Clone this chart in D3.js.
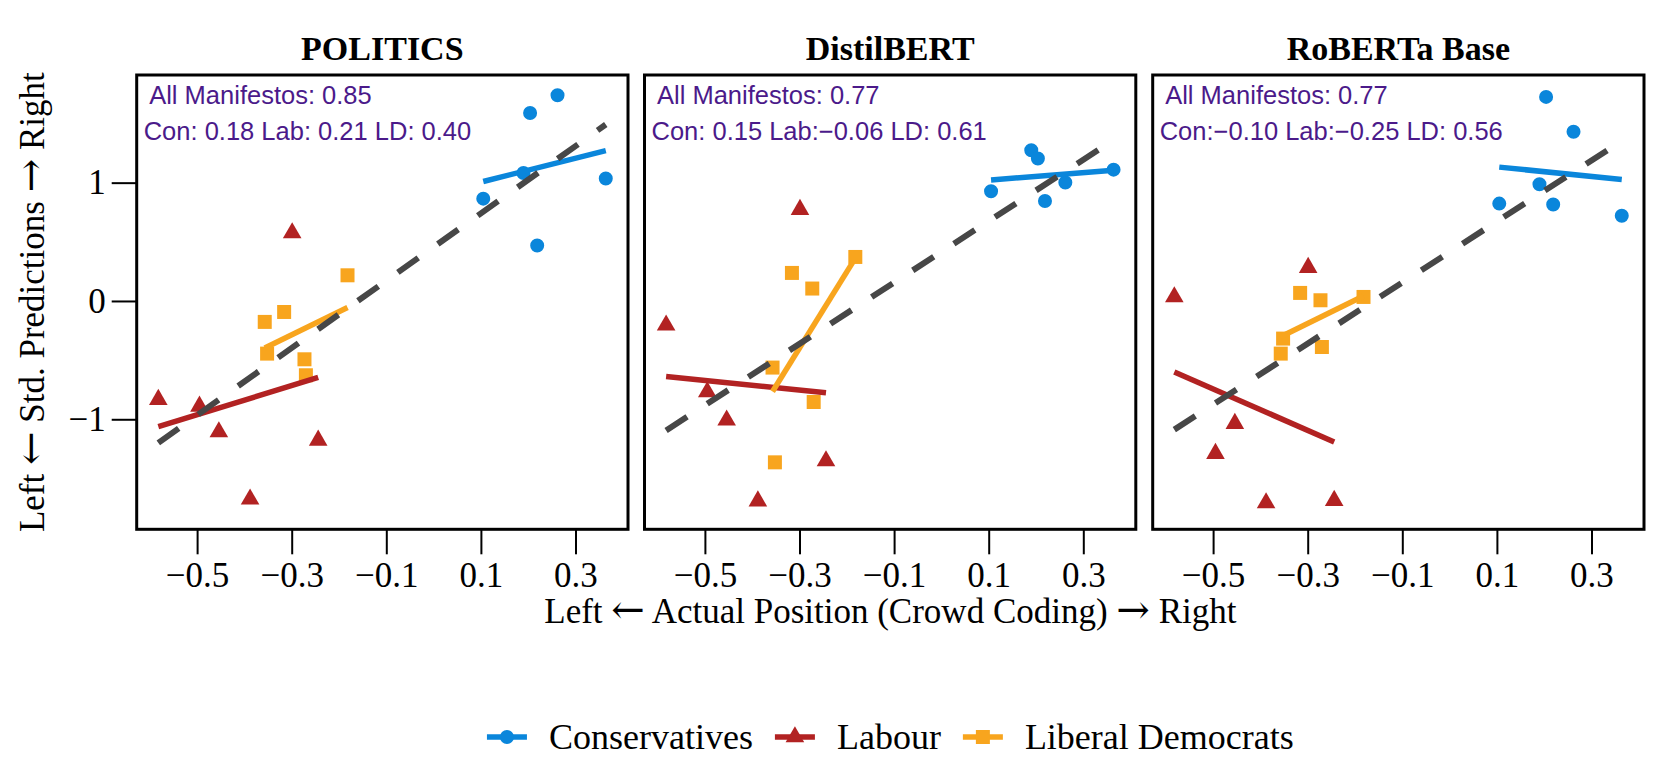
<!DOCTYPE html>
<html>
<head>
<meta charset="utf-8">
<script src="https://cdn.jsdelivr.net/npm/d3@7"></script>
<style>
  body { margin: 0; background: #fff; }
  svg text { font-family: "Liberation Serif", "Times New Roman", serif; }
</style>
</head>
<body>
<div id="chart"></div>
<script>
// data
var models = ["POLITICS", "DistilBERT", "RoBERTa Base"];
var parties = ["Conservatives", "Labour", "Liberal Democrats"];
var allCorr = ["0.85", "0.77", "0.77"];
var conCorr = ["0.18", "0.15", "−0.10"];
var labCorr = ["0.21", "−0.06", "−0.25"];
var ldCorr = ["0.40", "0.61", "0.56"];

// crowd coded positions (same in every panel)
var conX = [0.105, 0.190, 0.204, 0.219, 0.262, 0.364];
var labX = [-0.582, -0.495, -0.454, -0.388, -0.299, -0.244];
var ldX = [-0.357, -0.352, -0.316, -0.273, -0.270, -0.182];

// standardised predictions, one row per model
var conY = [
  [0.865, 1.082, 1.589, 0.469, 1.739, 1.035],
  [0.927, 1.274, 1.204, 0.845, 1.001, 1.110],
  [0.823, 0.986, 1.725, 0.815, 1.430, 0.720]
];
var labY = [
  [-0.833, -0.890, -1.107, -1.675, 0.575, -1.178],
  [-0.205, -0.769, -1.008, -1.691, 0.773, -1.352],
  [0.034, -1.290, -1.036, -1.707, 0.282, -1.687]
];
var ldY = [
  [-0.177, -0.445, -0.093, -0.493, -0.628, 0.217],
  [-0.563, -1.364, 0.237, 0.105, -0.854, 0.372],
  [-0.445, -0.318, 0.068, 0.006, -0.389, 0.034]
];

var xTicks = [-0.5, -0.3, -0.1, 0.1, 0.3];
var yTicks = [-1, 0, 1];

var colors = {"Conservatives": "#0A86DB", "Labour": "#B22222", "Liberal Democrats": "#F8A51E"};
var shapes = {"Conservatives": d3.symbolCircle, "Labour": d3.symbolTriangle, "Liberal Democrats": d3.symbolSquare};
var sizes = {"Conservatives": 154, "Labour": 150, "Liberal Democrats": 196};

var W = 1661, H = 767;
var panelW = 491.3, panelH = 454.3, panelTop = 75;
var panelLeft = [136.7, 644.5, 1152.7];
var sans = "'Liberation Sans', Arial, sans-serif";

var svg = d3.select("#chart").append("svg")
  .attr("width", W).attr("height", H);

var x = d3.scaleLinear().domain([-0.6277, 0.411]).range([0, panelW]);
var y = d3.scaleLinear().domain([-1.93, 1.91]).range([panelH, 0]);

function fit(xs, ys) {
  var mx = d3.mean(xs), my = d3.mean(ys);
  var sxy = d3.sum(xs, function(v, i) { return (v - mx) * (ys[i] - my); });
  var sxx = d3.sum(xs, function(v) { return (v - mx) * (v - mx); });
  var b = sxy / sxx;
  var x0 = d3.min(xs), x1 = d3.max(xs);
  return [[x0, my + b * (x0 - mx)], [x1, my + b * (x1 - mx)]];
}

function corrText(label, v) {
  return label + ":" + (v.charAt(0) === "−" ? "" : " ") + v;
}

// text with wide arrows
function arrowText(sel, parts) {
  parts.forEach(function(p) {
    var t = sel.append("tspan").text(p);
    if (p === "←" || p === "→") t.style("font-family", "'DejaVu Serif', serif").attr("font-size", 40);
  });
}

var line = d3.line().x(function(d) { return x(d[0]); }).y(function(d) { return y(d[1]); });

models.forEach(function(m, i) {
  var g = svg.append("g").attr("transform", "translate(" + panelLeft[i] + "," + panelTop + ")");

  var series = [
    {party: "Conservatives", xs: conX, ys: conY[i]},
    {party: "Labour", xs: labX, ys: labY[i]},
    {party: "Liberal Democrats", xs: ldX, ys: ldY[i]}
  ];

  // axes
  g.append("g").attr("transform", "translate(0," + panelH + ")")
    .call(d3.axisBottom(x).tickValues(xTicks).tickSize(25).tickPadding(8).tickFormat(function(d) { return d3.format(".1f")(d).replace("-", "−"); }))
    .call(function(a) {
      a.select(".domain").remove();
      a.selectAll("line").attr("stroke", "#000").attr("stroke-width", 2);
      a.selectAll("text").attr("font-size", 35).attr("font-family", "Liberation Serif").attr("fill", "#000");
    });
  if (i === 0) {
    g.append("g")
      .call(d3.axisLeft(y).tickValues(yTicks).tickSize(25).tickPadding(6).tickFormat(function(d) { return String(d).replace("-", "−"); }))
      .call(function(a) {
        a.select(".domain").remove();
        a.selectAll("line").attr("stroke", "#000").attr("stroke-width", 2);
        a.selectAll("text").attr("font-size", 35).attr("font-family", "Liberation Serif").attr("fill", "#000");
      });
  }

  // points
  series.forEach(function(s) {
    g.selectAll(null).data(s.xs.map(function(v, k) { return [v, s.ys[k]]; }))
      .enter().append("path")
      .attr("d", d3.symbol().type(shapes[s.party]).size(sizes[s.party]))
      .attr("transform", function(d) { return "translate(" + x(d[0]) + "," + y(d[1]) + ")"; })
      .attr("fill", colors[s.party]);
  });

  // per-party fits
  series.forEach(function(s) {
    g.append("path").datum(fit(s.xs, s.ys))
      .attr("d", line).attr("fill", "none")
      .attr("stroke", colors[s.party]).attr("stroke-width", 5.5);
  });

  // overall fit
  var allX = conX.concat(labX, ldX);
  var allY = conY[i].concat(labY[i], ldY[i]);
  g.append("path").datum(fit(allX, allY))
    .attr("d", line).attr("fill", "none")
    .attr("stroke", "#474747").attr("stroke-width", 6)
    .attr("stroke-dasharray", "25,24");

  // panel border
  g.append("rect").attr("width", panelW).attr("height", panelH)
    .attr("fill", "none").attr("stroke", "#000").attr("stroke-width", 3);

  // title
  g.append("text").attr("x", panelW / 2).attr("y", 60 - panelTop)
    .attr("text-anchor", "middle").attr("font-size", 34).attr("font-weight", "bold")
    .text(m);

  // correlation annotations
  g.append("text").attr("x", 12.5).attr("y", 104 - panelTop)
    .style("font-family", sans).attr("font-size", 25.5)
    .attr("fill", "#4B1A8A")
    .text("All Manifestos: " + allCorr[i]);
  g.append("text").attr("x", 7).attr("y", 140 - panelTop)
    .style("font-family", sans).attr("font-size", 25.5)
    .attr("fill", "#4B1A8A")
    .text(corrText("Con", conCorr[i]) + " " + corrText("Lab", labCorr[i]) + " " + corrText("LD", ldCorr[i]));
});

// axis titles
svg.append("text").attr("x", (panelLeft[0] + panelLeft[2] + panelW) / 2).attr("y", 623)
  .attr("text-anchor", "middle").attr("font-size", 35)
  .call(arrowText, ["Left ", "←", " Actual Position (Crowd Coding) ", "→", " Right"]);
svg.append("text")
  .attr("transform", "translate(44," + (panelTop + panelH / 2) + ") rotate(-90)")
  .attr("text-anchor", "middle").attr("font-size", 35)
  .call(arrowText, ["Left ", "←", " Std. Predictions ", "→", " Right"]);

// legend
var leg = svg.append("g");
var lx = 0;
parties.forEach(function(p) {
  var it = leg.append("g").attr("transform", "translate(" + lx + ",0)");
  it.append("line").attr("x1", 0).attr("x2", 40).attr("y1", 0).attr("y2", 0)
    .attr("stroke", colors[p]).attr("stroke-width", 5.5);
  it.append("path").attr("d", d3.symbol().type(shapes[p]).size(sizes[p]))
    .attr("transform", "translate(20,0)").attr("fill", colors[p]);
  var t = it.append("text").attr("x", 62).attr("y", 12).attr("font-size", 36).text(p);
  lx += 62 + t.node().getComputedTextLength() + 22;
});
var legW = lx - 22;
leg.attr("transform", "translate(" + ((panelLeft[0] + panelLeft[2] + panelW) / 2 - legW / 2) + ",737)");
</script>
</body>
</html>
